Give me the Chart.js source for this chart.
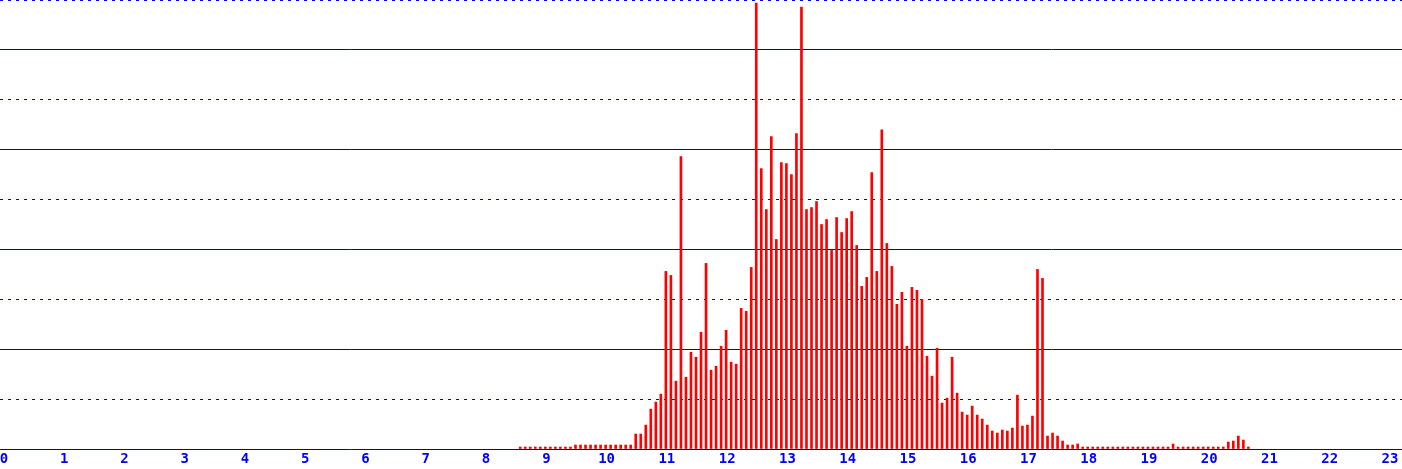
<!DOCTYPE html>
<html>
<head>
<meta charset="utf-8">
<script src="https://cdn.jsdelivr.net/npm/chart.js@4/dist/chart.umd.min.js"></script>
<style>
html, body { margin: 0; padding: 0; background: #fff; }
canvas { display: block; }
</style>
</head>
<body>
<canvas id="histChart" width="1402" height="469"></canvas>
<script>
// 5 minute bins, first one starts at 8:35
const firstBinHour = 8 + 35 / 60;
const binHours = 5 / 60;

const counts = [
  1, 1, 1, 1, 1, 1, 1, 1, 1, 1, 1,
  2, 2, 2, 2, 2, 2, 2, 2, 2, 2, 2, 2,
  7.5, 7.5, 12, 20, 23.5, 27.5, 89, 87, 34, 146.5, 36, 48.5, 46, 58.5, 93, 39.5, 41.5, 51.5, 59.5, 43.5, 42.5,
  70.5, 69, 91, 223.5, 140.5, 120, 156.5, 105, 143.5, 143, 137.5, 158, 221.5, 120, 121, 124, 112.5, 115,
  99.5, 116, 108.5, 115.5, 119, 102, 81.5, 86, 138.5, 89, 160, 103, 91.5, 72.5, 78.5, 51.5, 81, 79.5,
  75, 46.5, 36.5, 50.5, 23, 25.5, 46, 28, 18.5, 17, 21.5, 17, 15, 12, 9, 8, 9.5, 9, 10.5, 27, 11.5,
  12, 16.5, 90, 85.5, 6.5, 8, 6.5, 4, 2, 2, 2.5,
  1, 1, 1, 1, 1, 1, 1, 1, 1, 1, 1, 1, 1, 1, 1, 1, 1, 1,
  2.5,
  1, 1, 1, 1, 1, 1, 1, 1, 1, 1,
  3.5, 4, 6.5, 4.5, 1
];

const hourTicks = [0, 1, 2, 3, 4, 5, 6, 7, 8, 9, 10, 11, 12, 13, 14, 15, 16, 17, 18, 19, 20, 21, 22, 23];
const yMax = 225;
const yStep = 25;

const points = counts.map((c, i) => ({ x: firstBinHour + i * binHours, y: c }));

new Chart(document.getElementById('histChart'), {
  type: 'bar',
  data: {
    datasets: [{
      data: points,
      backgroundColor: '#ff0000',
      borderWidth: 0,
      barThickness: 2
    }]
  },
  options: {
    responsive: false,
    animation: false,
    layout: { padding: 0 },
    plugins: { legend: { display: false }, tooltip: { enabled: false } },
    scales: {
      x: {
        type: 'linear',
        offset: false,
        min: -0.0498,
        max: 23.2157,
        grid: { display: false, drawTicks: false },
        border: { display: false },
        afterBuildTicks: (scale) => { scale.ticks = hourTicks.map(v => ({ value: v })); },
        afterFit: (scale) => {
          scale.height = 20;
          scale.paddingLeft = 0;
          scale.paddingRight = 0;
        },
        ticks: {
          color: '#0000ff',
          padding: 2,
          labelOffset: 1,
          maxRotation: 0,
          autoSkip: false,
          font: { family: 'DejaVu Sans Mono', size: 14, weight: 'bold' },
          callback: (v) => String(v)
        }
      },
      y: {
        min: 0,
        max: yMax,
        afterFit: (scale) => {
          scale.width = 0;
          scale.paddingTop = 0;
          scale.paddingBottom = 0;
        },
        ticks: { display: false, stepSize: yStep },
        grid: {
          drawTicks: false,
          lineWidth: 1,
          color: (ctx) => ctx.tick && ctx.tick.value === yMax ? '#0000ff' : '#0000c0'
        },
        border: {
          display: false,
          dash: (ctx) => {
            if (!ctx.tick) return [];
            const k = Math.round(ctx.tick.value / yStep);
            return k % 2 === 1 || ctx.tick.value === yMax ? [3, 5] : [];
          }
        }
      }
    }
  }
});
</script>
</body>
</html>
